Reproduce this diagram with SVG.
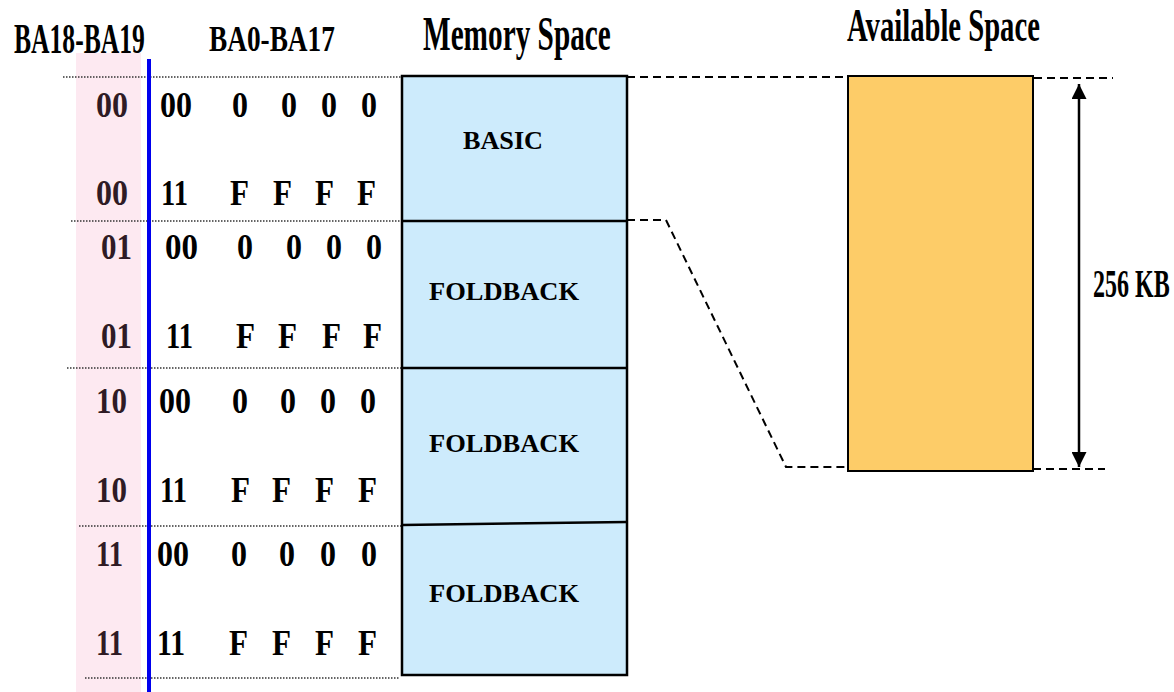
<svg xmlns="http://www.w3.org/2000/svg" width="1174" height="692" viewBox="0 0 1174 692">
  <style>
    text { font-family: "Liberation Serif", "Times New Roman", serif; font-weight: bold; fill: #000; }
    .dg { font-size: 35px; }
    .pk { fill: #2f1b25; }
    .lb { font-size: 26px; }
    .dot { stroke: #333; stroke-width: 1.5; stroke-dasharray: 1.5 1.5; fill: none; }
    .dash { stroke: #000; stroke-width: 2; stroke-dasharray: 8 5; fill: none; }
    .seg { fill: #cdebfc; stroke: #000; stroke-width: 2.5; }
    .div { stroke: #000; stroke-width: 2.5; fill: none; }
  </style>
  <defs>
    <marker id="ah" viewBox="0 0 10 10" refX="10" refY="5" markerWidth="6" markerHeight="6" orient="auto-start-reverse" markerUnits="strokeWidth">
      <path d="M0,0 L10,5 L0,10 Z" fill="#000"/>
    </marker>
  </defs>

  <rect width="1174" height="692" fill="#fff"/>

  <!-- high address bits column band -->
  <rect x="76" y="53" width="65" height="639" fill="#fde9f1"/>

  <!-- column headings (condensed type) -->
  <g id="headings">
    <text transform="translate(14,53) scale(0.61,1)" font-size="42">BA18-BA19</text>
    <text transform="translate(209,51) scale(0.78,1)" font-size="35">BA0-BA17</text>
    <text transform="translate(423,50) scale(0.61,1)" font-size="48">Memory Space</text>
    <text transform="translate(847,41) scale(0.623,1)" font-size="46">Available Space</text>
  </g>

  <!-- row separators -->
  <g id="separators">
    <line class="dot" x1="63" y1="77" x2="402" y2="77"/>
    <line class="dot" x1="71" y1="221" x2="402" y2="221"/>
    <line class="dot" x1="67" y1="368" x2="402" y2="368"/>
    <line class="dot" x1="79" y1="526" x2="402" y2="526"/>
    <line class="dot" x1="85" y1="678" x2="400" y2="678"/>
  </g>

  <line x1="149" y1="59" x2="149" y2="692" stroke="#0000ee" stroke-width="4"/>

  <!-- address table -->
  <g id="addresses" class="dg">
    <g id="row-00">
      <text class="pk" x="96" y="117" textLength="32" lengthAdjust="spacingAndGlyphs">00</text>
      <text x="160" y="117" textLength="32" lengthAdjust="spacingAndGlyphs">00</text>
      <text x="232" y="117" textLength="16" lengthAdjust="spacingAndGlyphs">0</text>
      <text x="281" y="117" textLength="16" lengthAdjust="spacingAndGlyphs">0</text>
      <text x="321" y="117" textLength="16" lengthAdjust="spacingAndGlyphs">0</text>
      <text x="361" y="117" textLength="16" lengthAdjust="spacingAndGlyphs">0</text>
      <text class="pk" x="96" y="205" textLength="32" lengthAdjust="spacingAndGlyphs">00</text>
      <text x="161" y="205" textLength="27" lengthAdjust="spacingAndGlyphs">11</text>
      <text x="230" y="205" textLength="19" lengthAdjust="spacingAndGlyphs">F</text>
      <text x="273" y="205" textLength="19" lengthAdjust="spacingAndGlyphs">F</text>
      <text x="315" y="205" textLength="19" lengthAdjust="spacingAndGlyphs">F</text>
      <text x="357" y="205" textLength="19" lengthAdjust="spacingAndGlyphs">F</text>
    </g>
    <g id="row-01">
      <text class="pk" x="101" y="259" textLength="31" lengthAdjust="spacingAndGlyphs">01</text>
      <text x="165" y="259" textLength="33" lengthAdjust="spacingAndGlyphs">00</text>
      <text x="237" y="259" textLength="16" lengthAdjust="spacingAndGlyphs">0</text>
      <text x="286" y="259" textLength="16" lengthAdjust="spacingAndGlyphs">0</text>
      <text x="326" y="259" textLength="16" lengthAdjust="spacingAndGlyphs">0</text>
      <text x="366" y="259" textLength="16" lengthAdjust="spacingAndGlyphs">0</text>
      <text class="pk" x="101" y="348" textLength="31" lengthAdjust="spacingAndGlyphs">01</text>
      <text x="166" y="348" textLength="27" lengthAdjust="spacingAndGlyphs">11</text>
      <text x="236" y="348" textLength="19" lengthAdjust="spacingAndGlyphs">F</text>
      <text x="278" y="348" textLength="19" lengthAdjust="spacingAndGlyphs">F</text>
      <text x="322" y="348" textLength="19" lengthAdjust="spacingAndGlyphs">F</text>
      <text x="363" y="348" textLength="19" lengthAdjust="spacingAndGlyphs">F</text>
    </g>
    <g id="row-10">
      <text class="pk" x="96" y="413" textLength="31" lengthAdjust="spacingAndGlyphs">10</text>
      <text x="159" y="413" textLength="32" lengthAdjust="spacingAndGlyphs">00</text>
      <text x="232" y="413" textLength="16" lengthAdjust="spacingAndGlyphs">0</text>
      <text x="280" y="413" textLength="16" lengthAdjust="spacingAndGlyphs">0</text>
      <text x="320" y="413" textLength="16" lengthAdjust="spacingAndGlyphs">0</text>
      <text x="360" y="413" textLength="16" lengthAdjust="spacingAndGlyphs">0</text>
      <text class="pk" x="96" y="502" textLength="31" lengthAdjust="spacingAndGlyphs">10</text>
      <text x="160" y="502" textLength="27" lengthAdjust="spacingAndGlyphs">11</text>
      <text x="231" y="502" textLength="19" lengthAdjust="spacingAndGlyphs">F</text>
      <text x="272" y="502" textLength="19" lengthAdjust="spacingAndGlyphs">F</text>
      <text x="315" y="502" textLength="19" lengthAdjust="spacingAndGlyphs">F</text>
      <text x="358" y="502" textLength="19" lengthAdjust="spacingAndGlyphs">F</text>
    </g>
    <g id="row-11">
      <text class="pk" x="96" y="566" textLength="27" lengthAdjust="spacingAndGlyphs">11</text>
      <text x="157" y="566" textLength="32" lengthAdjust="spacingAndGlyphs">00</text>
      <text x="231" y="566" textLength="16" lengthAdjust="spacingAndGlyphs">0</text>
      <text x="279" y="566" textLength="16" lengthAdjust="spacingAndGlyphs">0</text>
      <text x="320" y="566" textLength="16" lengthAdjust="spacingAndGlyphs">0</text>
      <text x="361" y="566" textLength="16" lengthAdjust="spacingAndGlyphs">0</text>
      <text class="pk" x="96" y="655" textLength="27" lengthAdjust="spacingAndGlyphs">11</text>
      <text x="157" y="655" textLength="28" lengthAdjust="spacingAndGlyphs">11</text>
      <text x="229" y="655" textLength="19" lengthAdjust="spacingAndGlyphs">F</text>
      <text x="272" y="655" textLength="19" lengthAdjust="spacingAndGlyphs">F</text>
      <text x="315" y="655" textLength="19" lengthAdjust="spacingAndGlyphs">F</text>
      <text x="358" y="655" textLength="19" lengthAdjust="spacingAndGlyphs">F</text>
    </g>
  </g>

  <!-- memory map -->
  <g id="memory">
    <rect class="seg" x="402" y="76" width="225" height="599"/>
    <line class="div" x1="402" y1="221" x2="627" y2="221"/>
    <line class="div" x1="402" y1="368" x2="627" y2="368"/>
    <line class="div" x1="402" y1="525" x2="627" y2="522"/>
  </g>
  <g id="seg-basic"><text class="lb" x="463" y="149" textLength="80" lengthAdjust="spacingAndGlyphs">BASIC</text></g>
  <g id="seg-foldback-1"><text class="lb" x="429" y="300" textLength="150" lengthAdjust="spacingAndGlyphs">FOLDBACK</text></g>
  <g id="seg-foldback-2"><text class="lb" x="429" y="452" textLength="150" lengthAdjust="spacingAndGlyphs">FOLDBACK</text></g>
  <g id="seg-foldback-3"><text class="lb" x="429" y="602" textLength="150" lengthAdjust="spacingAndGlyphs">FOLDBACK</text></g>

  <!-- available space block -->
  <g id="available">
    <rect x="848" y="76" width="185" height="395" fill="#fdcc68" stroke="#000" stroke-width="2"/>
  </g>

  <!-- projection lines and size dimension -->
  <g id="connectors">
    <line class="dash" x1="627" y1="77" x2="846" y2="77"/>
    <polyline class="dash" points="627,220 666,220 786,467 848,467"/>
    <line class="dash" x1="1034" y1="78" x2="1113" y2="78"/>
    <line class="dash" x1="1033" y1="469" x2="1105" y2="469"/>
    <line x1="1079" y1="84" x2="1079" y2="467" stroke="#000" stroke-width="2.5" marker-start="url(#ah)" marker-end="url(#ah)"/>
  </g>
  <g id="size-label">
    <text transform="translate(1093,297) scale(0.6,1)" font-size="40">256 KB</text>
  </g>
</svg>
